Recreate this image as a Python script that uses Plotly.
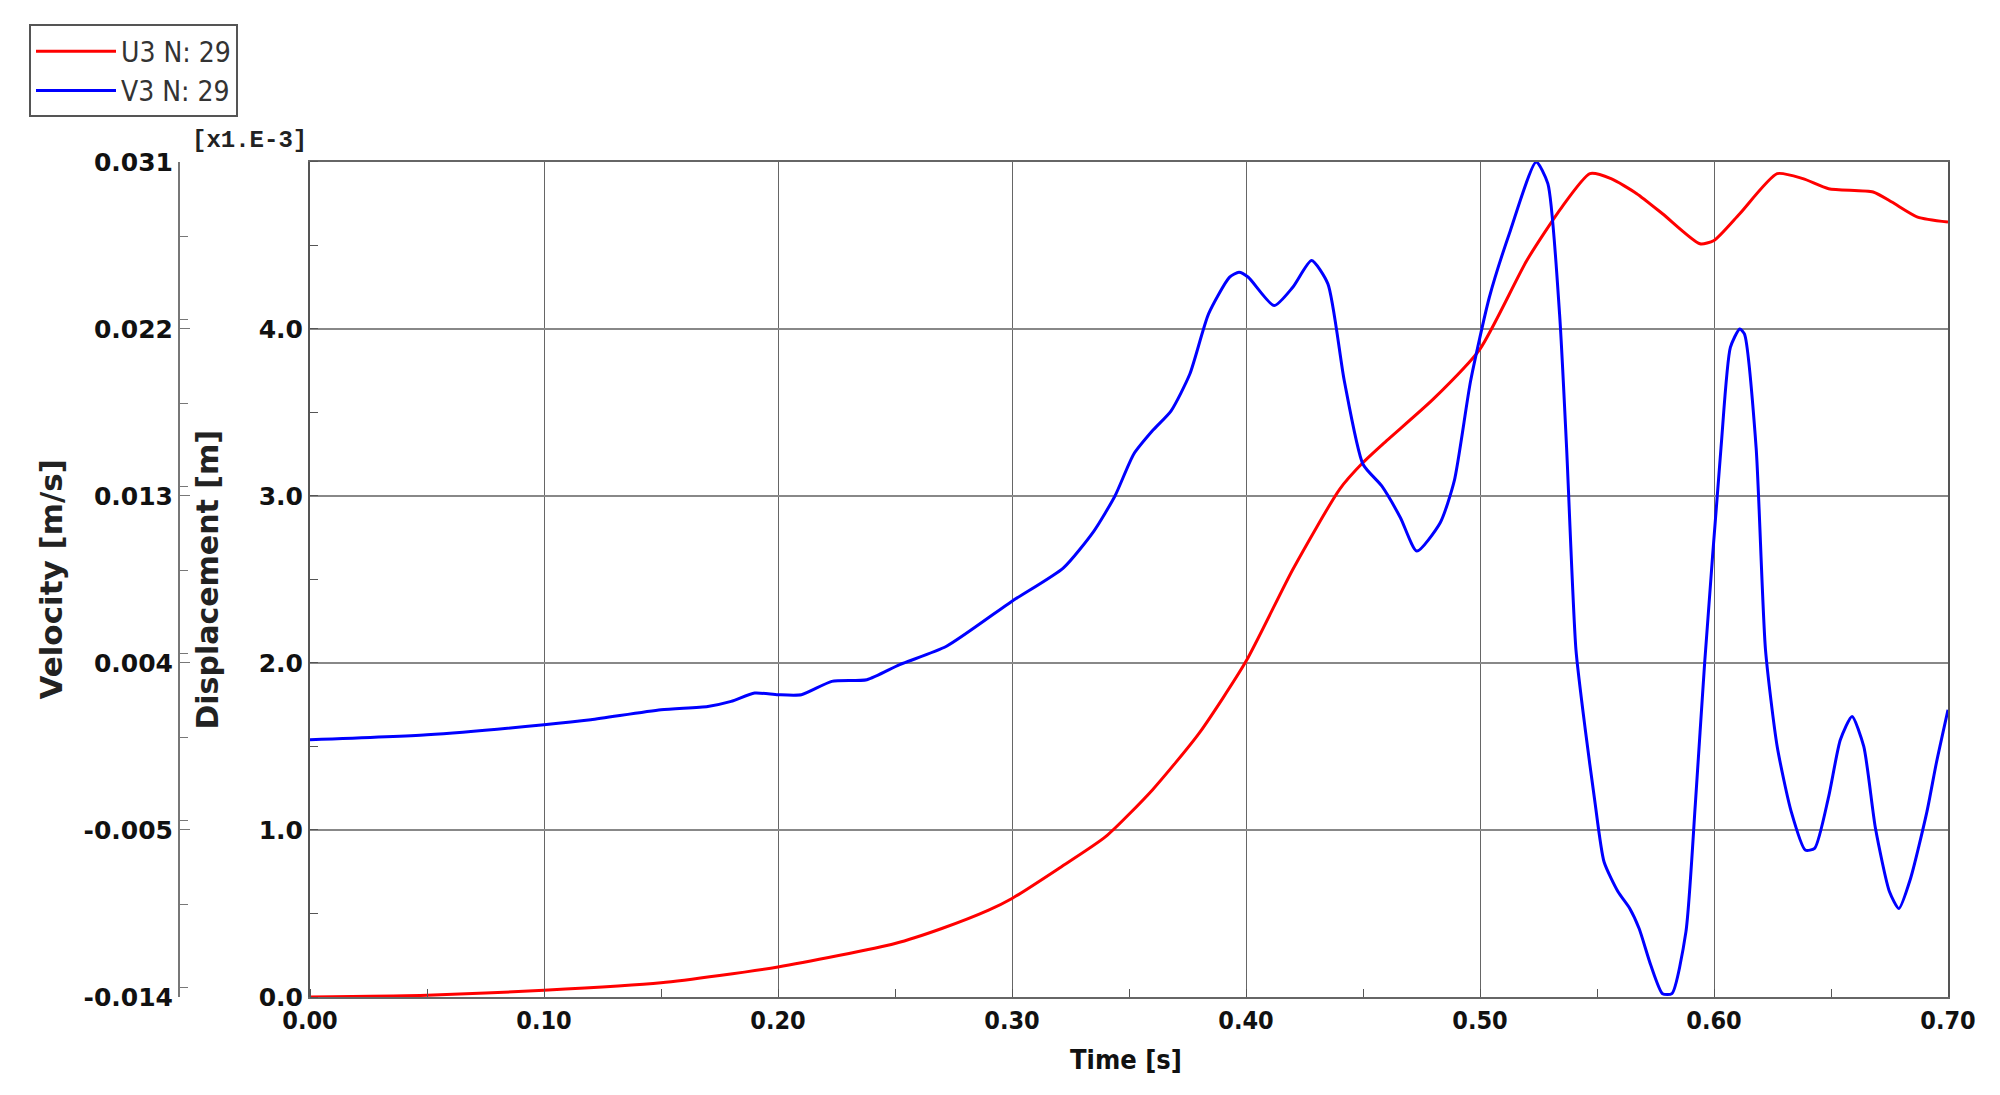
import plotly.graph_objects as go

# U3 displacement, in units of 1e-3 m
u3_time = [0.000, 0.050, 0.100, 0.150, 0.200, 0.250, 0.270, 0.290, 0.300, 0.320,
           0.340, 0.360, 0.380, 0.400, 0.420, 0.440, 0.450, 0.460, 0.480, 0.500,
           0.520, 0.535, 0.547, 0.556, 0.567, 0.578, 0.594, 0.600, 0.611, 0.627,
           0.638, 0.649, 0.668, 0.676, 0.687, 0.700]
u3_disp = [0.00, 0.01, 0.04, 0.085, 0.18, 0.32, 0.41, 0.52, 0.59, 0.77,
           0.96, 1.24, 1.58, 2.01, 2.56, 3.04, 3.20, 3.33, 3.58, 3.88,
           4.41, 4.73, 4.93, 4.90, 4.81, 4.69, 4.51, 4.53, 4.69, 4.93,
           4.90, 4.84, 4.82, 4.76, 4.67, 4.64]

# V3 velocity, m/s
v3_time = [0.000, 0.050, 0.100, 0.120, 0.150, 0.170, 0.180, 0.190, 0.200, 0.210,
           0.223, 0.238, 0.252, 0.272, 0.300, 0.322, 0.335, 0.344, 0.352, 0.360,
           0.368, 0.376, 0.384, 0.393, 0.397, 0.401, 0.412, 0.420, 0.428, 0.435,
           0.442, 0.450, 0.458, 0.466, 0.473, 0.483, 0.489, 0.496, 0.504, 0.513,
           0.524, 0.529, 0.534, 0.537, 0.541, 0.545, 0.549, 0.553, 0.559, 0.564,
           0.568, 0.573, 0.578, 0.582, 0.588, 0.592, 0.596, 0.603, 0.607, 0.611,
           0.613, 0.618, 0.622, 0.627, 0.633, 0.639, 0.643, 0.649, 0.654, 0.659,
           0.664, 0.669, 0.675, 0.679, 0.684, 0.691, 0.695, 0.700]
v3_vel = [-0.00014, 0.00013, 0.00067, 0.00094, 0.00148, 0.00166, 0.00193, 0.00238, 0.00229, 0.00229,
          0.00301, 0.00310, 0.00391, 0.00490, 0.00733, 0.00913, 0.01111, 0.01300, 0.01525, 0.01651,
          0.01759, 0.01957, 0.02281, 0.02479, 0.02506, 0.02479, 0.02326, 0.02425, 0.02569, 0.02443,
          0.01921, 0.01471, 0.01354, 0.01183, 0.01003, 0.01156, 0.01381, 0.01921, 0.02371, 0.02731,
          0.03100, 0.02983, 0.02281, 0.01561, 0.00472, 0.00040, -0.00338, -0.00671, -0.00833, -0.00923,
          -0.01031, -0.01229, -0.01382, -0.01382, -0.01049, -0.00365, 0.00400, 0.01561, 0.02101, 0.02200,
          0.02173, 0.01561, 0.00472, -0.00050, -0.00401, -0.00608, -0.00599, -0.00320, -0.00014, 0.00112,
          -0.00050, -0.00491, -0.00833, -0.00923, -0.00761, -0.00401, -0.00140, 0.00148]

time_ticks = [0.0, 0.1, 0.2, 0.3, 0.4, 0.5, 0.6, 0.7]
time_labels = ["0.00", "0.10", "0.20", "0.30", "0.40", "0.50", "0.60", "0.70"]
disp_ticks = [0, 1, 2, 3, 4]
disp_labels = ["0.0", "1.0", "2.0", "3.0", "4.0"]
vel_ticks = [-0.014, -0.005, 0.004, 0.013, 0.022, 0.031]
vel_labels = ["-0.014", "-0.005", "0.004", "0.013", "0.022", "0.031"]

BOLD = "DejaVu Sans"
NARROW = "DejaVu Sans Condensed, Liberation Sans Narrow, DejaVu Sans"

fig = go.Figure()
fig.add_trace(go.Scatter(x=u3_time, y=u3_disp, mode="lines", name="U3 N: 29",
                         line=dict(color="#ff0000", width=3, shape="spline", smoothing=0.6)))
fig.add_trace(go.Scatter(x=v3_time, y=v3_vel, mode="lines", name="V3 N: 29", yaxis="y2",
                         line=dict(color="#0000ff", width=3, shape="spline", smoothing=0.6)))

fig.update_layout(
    width=2000, height=1095,
    margin=dict(l=0, r=0, t=0, b=0),
    paper_bgcolor="white", plot_bgcolor="white",
    xaxis=dict(
        domain=[0.151, 0.970], range=[0, 0.7], automargin=False,
        tickvals=time_ticks, ticktext=time_labels,
        tickfont=dict(family=NARROW, size=25, color="#111", weight="bold"),
        showgrid=True, gridcolor="#666", gridwidth=1,
        showline=True, linecolor="#666", linewidth=2, mirror=True,
        ticks="", zeroline=False,
        minor=dict(dtick=0.05, ticks="inside", ticklen=8, tickcolor="#555", showgrid=False),
    ),
    yaxis=dict(
        domain=[0.0968, 0.8594], range=[0, 5], automargin=False,
        tickvals=disp_ticks, ticktext=disp_labels,
        tickfont=dict(family=BOLD, size=25, color="#111", weight="bold"),
        showgrid=True, gridcolor="#888", gridwidth=2,
        showline=True, linecolor="#555", linewidth=2, mirror=True,
        ticks="", zeroline=False,
        minor=dict(dtick=0.5, ticks="inside", ticklen=8, tickcolor="#555", showgrid=False),
    ),
    yaxis2=dict(
        overlaying="y", anchor="free", position=0.0855, side="left",
        range=[-0.014, 0.031], automargin=False,
        tickvals=vel_ticks, ticktext=vel_labels,
        tickfont=dict(family=BOLD, size=25, color="#111", weight="bold"),
        showgrid=False, zeroline=False,
        showline=True, linecolor="#777", linewidth=2,
        ticks="inside", ticklen=10, tickcolor="#777",
        minor=dict(dtick=0.0045, ticks="inside", ticklen=8, tickcolor="#777"),
    ),
    legend=dict(
        x=0.0105, y=0.985, xanchor="left", yanchor="top",
        bgcolor="white", bordercolor="#555", borderwidth=2,
        font=dict(family=NARROW, size=28, color="#333"),
        tracegroupgap=0, itemwidth=80,
    ),
    showlegend=True,
)

fig.add_annotation(text="[x1.E-3]", xref="paper", yref="paper", x=0.1505, y=0.879,
                   xanchor="right", yanchor="middle", showarrow=False,
                   font=dict(family="Liberation Mono", size=24, color="#222", weight="bold"))
fig.add_annotation(text="Velocity [m/s]", xref="paper", yref="paper", x=0.0215, y=0.478,
                   textangle=-90, showarrow=False, xanchor="center", yanchor="middle",
                   font=dict(family=BOLD, size=31, color="#222", weight="bold"))
fig.add_annotation(text="Displacement [m]", xref="paper", yref="paper", x=0.100, y=0.478,
                   textangle=-90, showarrow=False, xanchor="center", yanchor="middle",
                   font=dict(family=BOLD, size=30, color="#222", weight="bold"))
fig.add_annotation(text="Time [s]", xref="paper", yref="paper", x=0.559, y=0.040,
                   showarrow=False, xanchor="center", yanchor="middle",
                   font=dict(family=NARROW, size=27, color="#111", weight="bold"))

fig.write_html("out.html")
